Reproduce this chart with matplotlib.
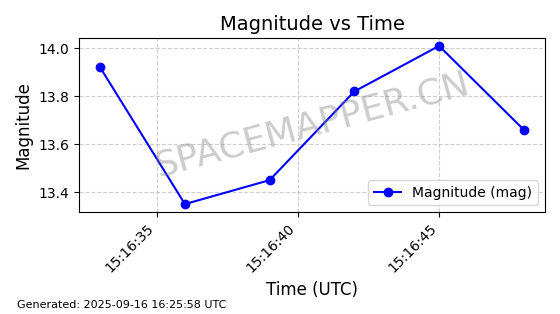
import matplotlib
matplotlib.use("Agg")
import matplotlib.pyplot as plt
import matplotlib.dates as mdates
import pandas as pd

times = ["2025-09-16 15:16:33", "2025-09-16 15:16:36", "2025-09-16 15:16:39",
         "2025-09-16 15:16:42", "2025-09-16 15:16:45", "2025-09-16 15:16:48"]
magnitudes = [13.92, 13.35, 13.45, 13.82, 14.01, 13.66]
yticks = [13.4, 13.6, 13.8, 14.0]

t = pd.to_datetime(times)

fig = plt.figure(figsize=(5.6, 3.14), dpi=100)
ax = fig.add_axes([79/560, 1 - 212/314, (545 - 79)/560, (212 - 38)/314])
ax.plot(t, magnitudes, marker="o", color="blue", linestyle="-", markersize=6,
        label="Magnitude (mag)")
ax.set_title("Magnitude vs Time", fontsize=14)
ax.set_xlabel("Time (UTC)", fontsize=12)
ax.set_ylabel("Magnitude", fontsize=12)
ax.set_yticks(yticks)
ax.xaxis.set_major_formatter(mdates.DateFormatter("%H:%M:%S"))
ax.xaxis.set_major_locator(mdates.SecondLocator(bysecond=range(0, 60, 5)))
plt.setp(ax.get_xticklabels(), rotation=45, ha="right")
ax.grid(True, linestyle="--", alpha=0.6)
ax.legend(loc="lower right")
ax.text(0.5, 0.5, "SPACEMAPPER.CN", transform=ax.transAxes, fontsize=26,
        color="gray", alpha=0.4, rotation=15, ha="center", va="center")
fig.text(17/560, 1 - 305/314, "Generated: 2025-09-16 16:25:58 UTC", fontsize=8,
         ha="left", va="center")
fig.savefig("out.png", dpi=100)
